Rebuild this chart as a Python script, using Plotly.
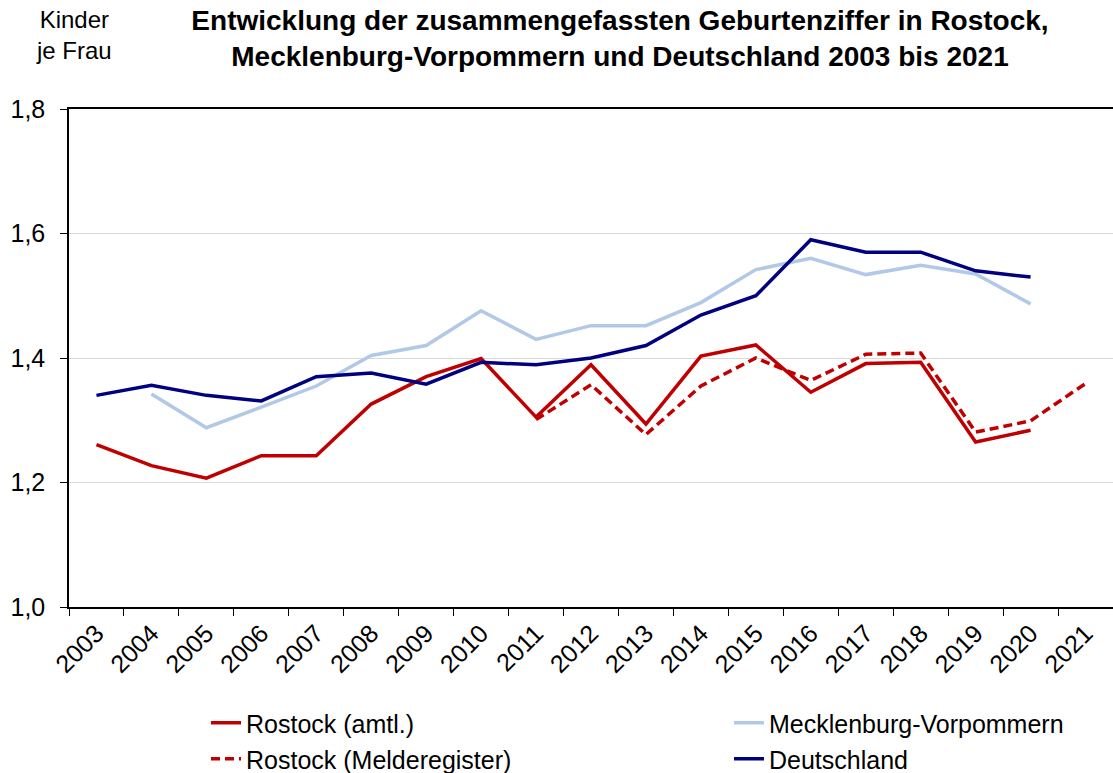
import plotly.graph_objects as go

years = [str(y) for y in range(2003, 2022)]

rostock_amtl = [1.261, 1.227, 1.207, 1.243, 1.243, 1.326, 1.370, 1.399, 1.305, 1.389,
                1.294, 1.403, 1.421, 1.345, 1.391, 1.393, 1.265, 1.284, None]
rostock_melde = [None, None, None, None, None, None, None, None, 1.301, 1.357,
                 1.277, 1.355, 1.400, 1.364, 1.406, 1.408, 1.281, 1.299, 1.359]
mv = [None, 1.342, 1.288, 1.321, 1.355, 1.404, 1.420, 1.476, 1.430, 1.452,
      1.452, 1.489, 1.542, 1.560, 1.534, 1.549, 1.535, 1.487, None]
deutschland = [1.340, 1.356, 1.340, 1.331, 1.370, 1.376, 1.358, 1.393, 1.389, 1.400,
               1.420, 1.469, 1.500, 1.590, 1.570, 1.570, 1.540, 1.530, None]

FONT = "Arial, Liberation Sans, sans-serif"
RED = "#C00000"
LIGHTBLUE = "#B1C9E6"
NAVY = "#000080"
LW = 3.5

fig = go.Figure()
fig.add_trace(go.Scatter(x=years, y=rostock_amtl, mode="lines", name="Rostock (amtl.)",
                         line=dict(color=RED, width=LW), legend="legend"))
fig.add_trace(go.Scatter(x=years, y=rostock_melde, mode="lines", name="Rostock (Melderegister)",
                         line=dict(color=RED, width=LW, dash="9px,5px"), legend="legend2"))
fig.add_trace(go.Scatter(x=years, y=mv, mode="lines", name="Mecklenburg-Vorpommern",
                         line=dict(color=LIGHTBLUE, width=LW), legend="legend3"))
fig.add_trace(go.Scatter(x=years, y=deutschland, mode="lines", name="Deutschland",
                         line=dict(color=NAVY, width=LW), legend="legend4"))

W, H = 1113, 773
L, R, T, B = 69, 0, 109, 166
pw = W - L - R
ph = H - T - B

def cx(p):  # window pixel -> container fraction
    return p / W

def cy(p):
    return 1 - p / H

leg_common = dict(font=dict(family=FONT, size=25, color="black"), bgcolor="rgba(0,0,0,0)",
                  xanchor="left", yanchor="middle", orientation="v",
                  xref="container", yref="container")

fig.update_layout(
    template="none",
    width=W, height=H,
    margin=dict(l=L, r=R, t=T, b=B, autoexpand=False),
    paper_bgcolor="white", plot_bgcolor="white",
    separators=",.",
    showlegend=True,
    font=dict(family=FONT, size=25, color="black"),
    title=dict(
        text="<b>Entwicklung der zusammengefassten Geburtenziffer in Rostock,<br>"
             "Mecklenburg-Vorpommern und Deutschland 2003 bis 2021</b>",
        x=cx(620), xanchor="center", y=cy(29.5), yanchor="middle",
        font=dict(family=FONT, size=28, color="black"),
    ),
    legend=dict(x=cx(206), y=cy(723), **leg_common),
    legend2=dict(x=cx(206), y=cy(759), **leg_common),
    legend3=dict(x=cx(729), y=cy(723), **leg_common),
    legend4=dict(x=cx(729), y=cy(759), **leg_common),
    annotations=[dict(text="Kinder<br>je Frau", x=(74 - L) / pw, y=(H - B - 4) / ph,
                      xref="paper", yref="paper", xanchor="center", yanchor="top",
                      showarrow=False, align="center",
                      font=dict(family=FONT, size=24, color="black"))],
)

fig.update_xaxes(
    type="category", categoryorder="array", categoryarray=years, automargin=False,
    range=[-0.5, len(years) - 0.5],
    showgrid=False, showline=True, linecolor="black", linewidth=1.5, mirror=True,
    ticks="outside", tickson="boundaries", ticklen=7, tickcolor="black", tickwidth=1,
    tickangle=-45, tickfont=dict(family=FONT, size=25, color="black"),
)
fig.update_yaxes(
    range=[1.0, 1.8], dtick=0.2, tick0=1.0, tickformat=".1f", automargin=False,
    showgrid=True, gridcolor="#D9D9D9", gridwidth=1,
    showline=True, linecolor="black", linewidth=1.5,
    ticks="outside", ticklen=7, tickcolor="black", tickwidth=1,
    ticklabelstandoff=10, tickfont=dict(family=FONT, size=25, color="black"),
    zeroline=False,
)

fig.write_html("out.html", config={"displayModeBar": False},
               post_script="document.body.style.margin='0';")
